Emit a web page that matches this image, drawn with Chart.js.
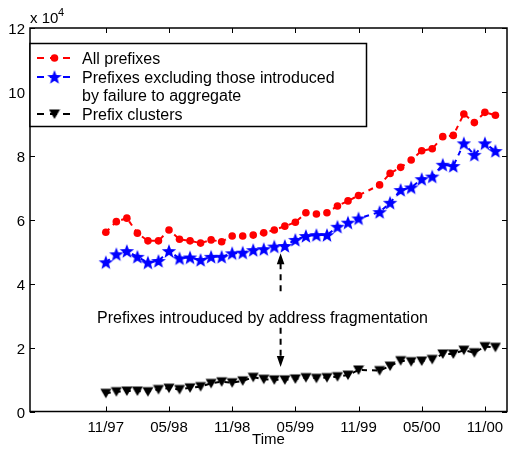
<!DOCTYPE html>
<html>
<head>
<meta charset="utf-8">
<script src="https://cdn.jsdelivr.net/npm/chart.js@4.4.1/dist/chart.umd.min.js"></script>
<style>
  html, body { margin: 0; padding: 0; background: #fff; }
  canvas { display: block; }
</style>
</head>
<body>
<canvas id="prefixChart" width="513" height="449"></canvas>
<script>
// x = months since 11/97, y in units of 10^4 prefixes
const months = [0, 1, 2, 3, 4, 5, 6, 7, 8, 9, 10, 11, 12, 13, 14, 15, 16, 17, 18,
                19, 20, 21, 22, 23, 24, 25, 26, 27, 28, 29, 30, 31, 32, 33, 34, 35, 36, 37];
const tickMonths = [0, 6, 12, 18, 24, 30, 36];
const tickLabels = ["11/97", "05/98", "11/98", "05/99", "11/99", "05/00", "11/00"];

const allPrefixes = [5.61, 5.94, 6.05, 5.58, 5.34, 5.34, 5.68, 5.39, 5.34, 5.27,
                     5.37, 5.31, 5.49, 5.49, 5.52, 5.59, 5.68, 5.80, 5.92,
                     6.22, 6.18, 6.22, 6.43, 6.59, 6.76, null,
                     7.09, 7.45, 7.64, 7.87, 8.16, 8.22, 8.60, 8.64, 9.31, 9.04, 9.36, 9.27];
const excludingAgg = [4.67, 4.92, 5.02, 4.84, 4.66, 4.71, 5.02, 4.79, 4.82, 4.74,
                      4.84, 4.84, 4.95, 4.97, 5.05, 5.08, 5.16, 5.18, 5.37,
                      5.49, 5.52, 5.52, 5.78, 5.91, 6.04, null,
                      6.24, 6.53, 6.93, 7.01, 7.27, 7.35, 7.72, 7.68, 8.39, 8.03, 8.39, 8.15];
const prefixClusters = [0.57, 0.62, 0.64, 0.64, 0.62, 0.69, 0.73, 0.69, 0.74, 0.78,
                        0.88, 0.93, 0.90, 0.96, 1.07, 1.01, 0.99, 0.99, 1.02,
                        1.06, 1.04, 1.06, 1.09, 1.14, 1.30, null,
                        1.28, 1.42, 1.59, 1.56, 1.58, 1.63, 1.80, 1.80, 1.92, 1.84, 2.03, 2.01];

const FONT = "'Liberation Sans', Arial, sans-serif";

// filled marker images (chart.js has no solid 5-point star / down triangle)
function starImg(color) {
  const c = document.createElement('canvas');
  c.width = 16; c.height = 16;
  const g = c.getContext('2d');
  g.fillStyle = color;
  g.beginPath();
  for (let i = 0; i < 10; i++) {
    const r = i % 2 ? 3.2 : 7.6;
    const a = -Math.PI / 2 + i * Math.PI / 5;
    g.lineTo(8 + r * Math.cos(a), 8.6 + r * Math.sin(a));
  }
  g.closePath();
  g.fill();
  return c;
}
function triImg(color) {
  const c = document.createElement('canvas');
  c.width = 12; c.height = 12;
  const g = c.getContext('2d');
  g.fillStyle = color;
  g.beginPath();
  g.moveTo(0.5, 1.5); g.lineTo(11.5, 1.5); g.lineTo(6, 11);
  g.closePath();
  g.fill();
  return c;
}
const star = starImg('#0000ff');
const tri = triImg('#000000');

function series(vals) {
  return months.map((m, i) => ({ x: m, y: vals[i] }));
}

const frame = {
  id: 'frame',
  afterDraw(chart) {
    const ctx = chart.ctx;
    const a = chart.chartArea;
    const xs = chart.scales.x, ys = chart.scales.y;
    ctx.save();
    ctx.strokeStyle = '#000';
    ctx.lineWidth = 1.5;
    ctx.strokeRect(a.left, a.top, a.right - a.left, a.bottom - a.top);
    // inward ticks on all four sides
    ctx.lineWidth = 1;
    ctx.beginPath();
    tickMonths.forEach(m => {
      const px = Math.round(xs.getPixelForValue(m)) + 0.5;
      ctx.moveTo(px, a.bottom); ctx.lineTo(px, a.bottom - 5);
      ctx.moveTo(px, a.top); ctx.lineTo(px, a.top + 5);
    });
    for (let v = 0; v <= 12; v += 2) {
      const py = Math.round(ys.getPixelForValue(v)) + 0.5;
      ctx.moveTo(a.left, py); ctx.lineTo(a.left + 5, py);
      ctx.moveTo(a.right, py); ctx.lineTo(a.right - 5, py);
    }
    ctx.stroke();

    // exponent label
    ctx.fillStyle = '#000';
    ctx.font = '15px ' + FONT;
    ctx.textBaseline = 'alphabetic';
    ctx.textAlign = 'left';
    ctx.fillText('x 10', 30, 23);
    ctx.font = '11px ' + FONT;
    ctx.fillText('4', 58, 16);

    // annotation
    const ax = xs.getPixelForValue(16.6);
    ctx.font = '16px ' + FONT;
    ctx.textAlign = 'center';
    ctx.fillText('Prefixes introuduced by address fragmentation', xs.getPixelForValue(14.88), ys.getPixelForValue(2.78));
    const upTip = ys.getPixelForValue(4.95), upTail = ys.getPixelForValue(3.72);
    const dnTail = ys.getPixelForValue(2.62), dnTip = ys.getPixelForValue(1.39);
    ctx.lineWidth = 2;
    ctx.setLineDash([6, 5]);
    ctx.beginPath();
    ctx.moveTo(ax, upTip + 10); ctx.lineTo(ax, upTail);
    ctx.moveTo(ax, dnTail); ctx.lineTo(ax, dnTip - 10);
    ctx.stroke();
    ctx.setLineDash([]);
    ctx.beginPath();
    ctx.moveTo(ax, upTip); ctx.lineTo(ax - 3.8, upTip + 11); ctx.lineTo(ax + 3.8, upTip + 11);
    ctx.closePath();
    ctx.moveTo(ax, dnTip); ctx.lineTo(ax - 3.8, dnTip - 11); ctx.lineTo(ax + 3.8, dnTip - 11);
    ctx.closePath();
    ctx.fill();

    // legend
    const lx = a.left, ly = 43.5, lw = 336.5, lh = 83;
    ctx.fillStyle = '#fff';
    ctx.fillRect(lx, ly, lw, lh);
    ctx.strokeStyle = '#000';
    ctx.lineWidth = 1.5;
    ctx.strokeRect(lx, ly, lw, lh);
    const rows = [
      { color: '#ff0000', mark: 'dot', lines: ['All prefixes'], base: 63.5 },
      { color: '#0000ff', mark: star, lines: ['Prefixes excluding those introduced', 'by failure to aggregate'], base: 82.5 },
      { color: '#000000', mark: tri, lines: ['Prefix clusters'], base: 119.5 }
    ];
    ctx.font = '16px ' + FONT;
    ctx.textAlign = 'left';
    rows.forEach(r => {
      const cy = r.base - 5.5;
      ctx.strokeStyle = r.color;
      ctx.lineWidth = 2;
      ctx.setLineDash([7, 6]);
      ctx.beginPath();
      ctx.moveTo(37, cy); ctx.lineTo(72, cy);
      ctx.stroke();
      ctx.setLineDash([]);
      if (r.mark === 'dot') {
        ctx.fillStyle = r.color;
        ctx.beginPath();
        ctx.arc(54.5, cy, 3.8, 0, Math.PI * 2);
        ctx.fill();
      } else {
        ctx.drawImage(r.mark, 54.5 - r.mark.width / 2, cy - r.mark.height / 2);
      }
      ctx.fillStyle = '#000';
      r.lines.forEach((t, k) => ctx.fillText(t, 82, r.base + k * 18.5));
    });
    ctx.restore();
  }
};

new Chart(document.getElementById('prefixChart'), {
  type: 'line',
  data: {
    datasets: [
      {
        label: 'All prefixes',
        data: series(allPrefixes),
        borderColor: '#ff0000',
        backgroundColor: '#ff0000',
        borderWidth: 2,
        borderDash: [5, 5],
        pointStyle: 'circle',
        pointRadius: 3.8,
        pointBorderWidth: 0,
        spanGaps: true
      },
      {
        label: 'Prefixes excluding those introduced by failure to aggregate',
        data: series(excludingAgg),
        borderColor: '#0000ff',
        backgroundColor: '#0000ff',
        borderWidth: 2,
        borderDash: [5, 5],
        pointStyle: star,
        spanGaps: true
      },
      {
        label: 'Prefix clusters',
        data: series(prefixClusters),
        borderColor: '#000000',
        backgroundColor: '#000000',
        borderWidth: 2,
        borderDash: [5, 5],
        pointStyle: tri,
        spanGaps: true
      }
    ]
  },
  options: {
    responsive: false,
    animation: false,
    layout: { padding: { top: 28, right: 1, left: 0, bottom: 0 } },
    plugins: { legend: { display: false }, tooltip: { enabled: false } },
    scales: {
      x: {
        type: 'linear',
        min: -7.2,
        max: 38.1,
        grid: { display: false, drawTicks: false },
        border: { display: false },
        afterBuildTicks: s => { s.ticks = tickMonths.map(v => ({ value: v })); },
        afterFit: s => { s.height = 37.5; },
        ticks: {
          color: '#000',
          font: { family: FONT, size: 15 },
          padding: 7,
          maxRotation: 0,
          callback: v => tickLabels[tickMonths.indexOf(v)]
        },
        title: {
          display: true,
          text: 'Time',
          color: '#000',
          font: { family: FONT, size: 15 },
          padding: 0
        }
      },
      y: {
        min: 0,
        max: 12,
        grid: { display: false, drawTicks: false },
        border: { display: false },
        afterFit: s => { s.width = 30; },
        ticks: {
          stepSize: 2,
          color: '#000',
          font: { family: FONT, size: 15 },
          padding: 5,
          labelOffset: 2
        }
      }
    }
  },
  plugins: [frame]
});
</script>
</body>
</html>
